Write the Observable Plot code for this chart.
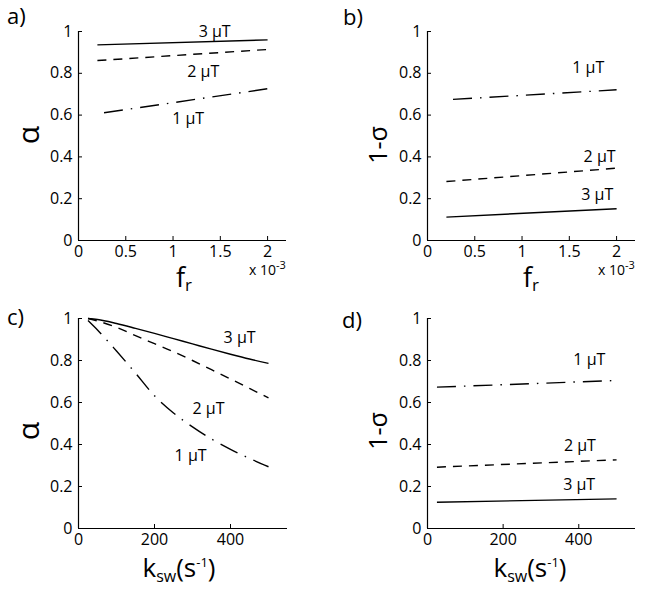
<!DOCTYPE html>
<html>
<head>
<meta charset="utf-8">
<script src="https://cdn.jsdelivr.net/npm/d3@7"></script>
<script src="https://cdn.jsdelivr.net/npm/@observablehq/plot@0.6"></script>
<style>
  html, body { margin: 0; padding: 0; background: #fff; }
  #wrap { position: relative; width: 649px; height: 592px; background: #fff; overflow: hidden; }
  #wrap svg { position: absolute; overflow: visible; }
</style>
</head>
<body>
<div id="wrap"></div>
<script>
// ---------- data ----------
const fieldLabels = ["1 μT", "2 μT", "3 μT"];

// panels a) and b): versus f_r (× 10^-3)
const frFull = [0.2, 2.0];
const frDashDot = [0.27, 2.0];
const alphaFr1 = [0.611, 0.726];
const alphaFr2 = [0.861, 0.914];
const alphaFr3 = [0.936, 0.960];
const sigmaFr1 = [0.675, 0.721];
const sigmaFr2 = [0.282, 0.346];
const sigmaFr3 = [0.112, 0.152];

// panels c) and d): versus k_sw (s^-1)
const ksw = [25, 50, 100, 150, 200, 250, 300, 350, 400, 450, 500];
const alphaK1 = [0.99, 0.945, 0.845, 0.74, 0.632, 0.55, 0.484, 0.426, 0.377, 0.334, 0.294];
const alphaK2 = [1.0, 0.988, 0.958, 0.918, 0.88, 0.842, 0.80, 0.756, 0.712, 0.667, 0.622];
const alphaK3 = [1.0, 0.995, 0.976, 0.953, 0.929, 0.904, 0.879, 0.854, 0.83, 0.807, 0.786];
const kswEnds = [25, 500];
const sigmaK1 = [0.673, 0.705];
const sigmaK2 = [0.292, 0.327];
const sigmaK3 = [0.125, 0.141];

// annotation anchors (data coordinates)
const labA = [[1.16, 0.581], [1.32, 0.806], [1.44, 1.0]];
const labB = [[1.70, 0.825], [1.82, 0.402], [1.795, 0.22]];
const labC = [[295, 0.348], [342, 0.569], [424, 0.907]];
const labD = [[428, 0.805], [403, 0.395], [401, 0.21]];

const yTicks = [0, 0.2, 0.4, 0.6, 0.8, 1];
const frTicks = [0, 0.5, 1, 1.5, 2];
const kTicks = [0, 200, 400];

// ---------- helpers ----------
const FONT = "'Open Sans', 'DejaVu Sans', sans-serif";
const styles = ["19,8,1.5,8", "9,7", null]; // 1 μT dash-dot, 2 μT dashed, 3 μT solid
const fmt = v => String(v);

function series(xs, ys) { return xs.map((x, i) => ({x, y: ys[i]})); }

function panel({left, top, width, height, margin, xDomain, xTicks, lines, labels}) {
  const marks = [
    Plot.ruleY([0], {stroke: "black", strokeWidth: 1.2}),
    Plot.ruleX([0], {stroke: "black", strokeWidth: 1.2}),
    Plot.axisX({ticks: xTicks, tickFormat: fmt, tickSize: 0, tickPadding: 5, label: null, fontSize: 16}),
    Plot.axisX({ticks: xTicks, tickSize: 4, dy: -4, fill: "none", label: null}),
    Plot.axisY({ticks: yTicks, tickFormat: fmt, tickSize: 0, tickPadding: 6, label: null, fontSize: 16}),
    Plot.axisY({ticks: yTicks, tickSize: 4, dx: 4, fill: "none", label: null})
  ];
  lines.forEach((ln, i) => {
    marks.push(Plot.line(ln, {x: "x", y: "y", stroke: "black", strokeWidth: 1.4,
      strokeDasharray: styles[i], strokeLinecap: "butt", curve: "monotone-x"}));
  });
  marks.push(Plot.text(labels.map((p, i) => ({x: p[0], y: p[1], t: fieldLabels[i]})),
    {x: "x", y: "y", text: "t", fontSize: 16, fill: "black", textAnchor: "middle"}));
  const svg = Plot.plot({
    width, height,
    marginLeft: margin[0], marginRight: margin[1], marginTop: margin[2], marginBottom: margin[3],
    x: {domain: xDomain, label: null},
    y: {domain: [0, 1], label: null},
    style: {fontFamily: FONT, fontSize: "16px", color: "black", background: "transparent"},
    marks
  });
  svg.style.left = left + "px";
  svg.style.top = top + "px";
  document.getElementById("wrap").appendChild(svg);
  return svg;
}

function addText(svg, x, y, parts, opts = {}) {
  const t = d3.select(svg).append("text")
    .attr("x", x).attr("y", y)
    .attr("font-family", FONT)
    .attr("fill", "black")
    .attr("text-anchor", opts.anchor || "middle");
  if (opts.rotate) t.attr("transform", `rotate(-90, ${x}, ${y})`);
  parts.forEach(p => {
    const s = t.append("tspan").text(p.t).attr("font-size", p.size);
    if (p.dy) s.attr("dy", p.dy);
  });
  return t;
}

// ---------- panels ----------
const W1 = 320, W2 = 329, H = 296;

const a = panel({left: 0, top: 0, width: W1, height: H, margin: [78, 34, 31, 56],
  xDomain: [0, 2.2], xTicks: frTicks,
  lines: [series(frDashDot, alphaFr1), series(frFull, alphaFr2), series(frFull, alphaFr3)],
  labels: labA});
const b = panel({left: W1, top: 0, width: W2, height: H, margin: [107, 14, 31, 56],
  xDomain: [0, 2.2], xTicks: frTicks,
  lines: [series(frDashDot, sigmaFr1), series(frFull, sigmaFr2), series(frFull, sigmaFr3)],
  labels: labB});
const c = panel({left: 0, top: H, width: W1, height: H, margin: [78, 33, 22, 64],
  xDomain: [0, 550], xTicks: kTicks,
  lines: [series(ksw, alphaK1), series(ksw, alphaK2), series(ksw, alphaK3)],
  labels: labC});
const d = panel({left: W1, top: H, width: W2, height: H, margin: [107, 14, 22, 64],
  xDomain: [0, 550], xTicks: kTicks,
  lines: [series(kswEnds, sigmaK1), series(kswEnds, sigmaK2), series(kswEnds, sigmaK3)],
  labels: labD});

// panel letters
addText(a, 7, 24, [{t: "a)", size: 22}], {anchor: "start"});
addText(b, 23, 25, [{t: "b)", size: 22}], {anchor: "start"});
addText(c, 7, 29, [{t: "c)", size: 22}], {anchor: "start"});
addText(d, 22, 32, [{t: "d)", size: 22}], {anchor: "start"});

// y labels
addText(a, 39, 135, [{t: "α", size: 30}], {rotate: true});
addText(b, 387 - W1, 145, [{t: "1-σ", size: 25}], {rotate: true});
addText(c, 39, 135, [{t: "α", size: 30}], {rotate: true});
addText(d, 387 - W1, 135, [{t: "1-σ", size: 25}], {rotate: true});

// x labels
function frLabel(svg, cx) {
  addText(svg, cx, 287, [{t: "f", size: 27}, {t: "r", size: 17, dy: "4"}]);
}
function expLabel(svg, x) {
  addText(svg, x, 275, [{t: "x 10", size: 14}, {t: "-3", size: 11, dy: "-6"}], {anchor: "start"});
}
frLabel(a, 184);
frLabel(b, 531 - W1);
expLabel(a, 249);
expLabel(b, 598 - W1);

function kLabel(svg, cx) {
  addText(svg, cx, 281, [
    {t: "k", size: 26}, {t: "sw", size: 16, dy: "5"},
    {t: "(s", size: 26, dy: "-5"}, {t: "-1", size: 13, dy: "-10"}, {t: ")", size: 26, dy: "10"}
  ]);
}
kLabel(c, 179);
kLabel(d, 530 - W1);
</script>
</body>
</html>
